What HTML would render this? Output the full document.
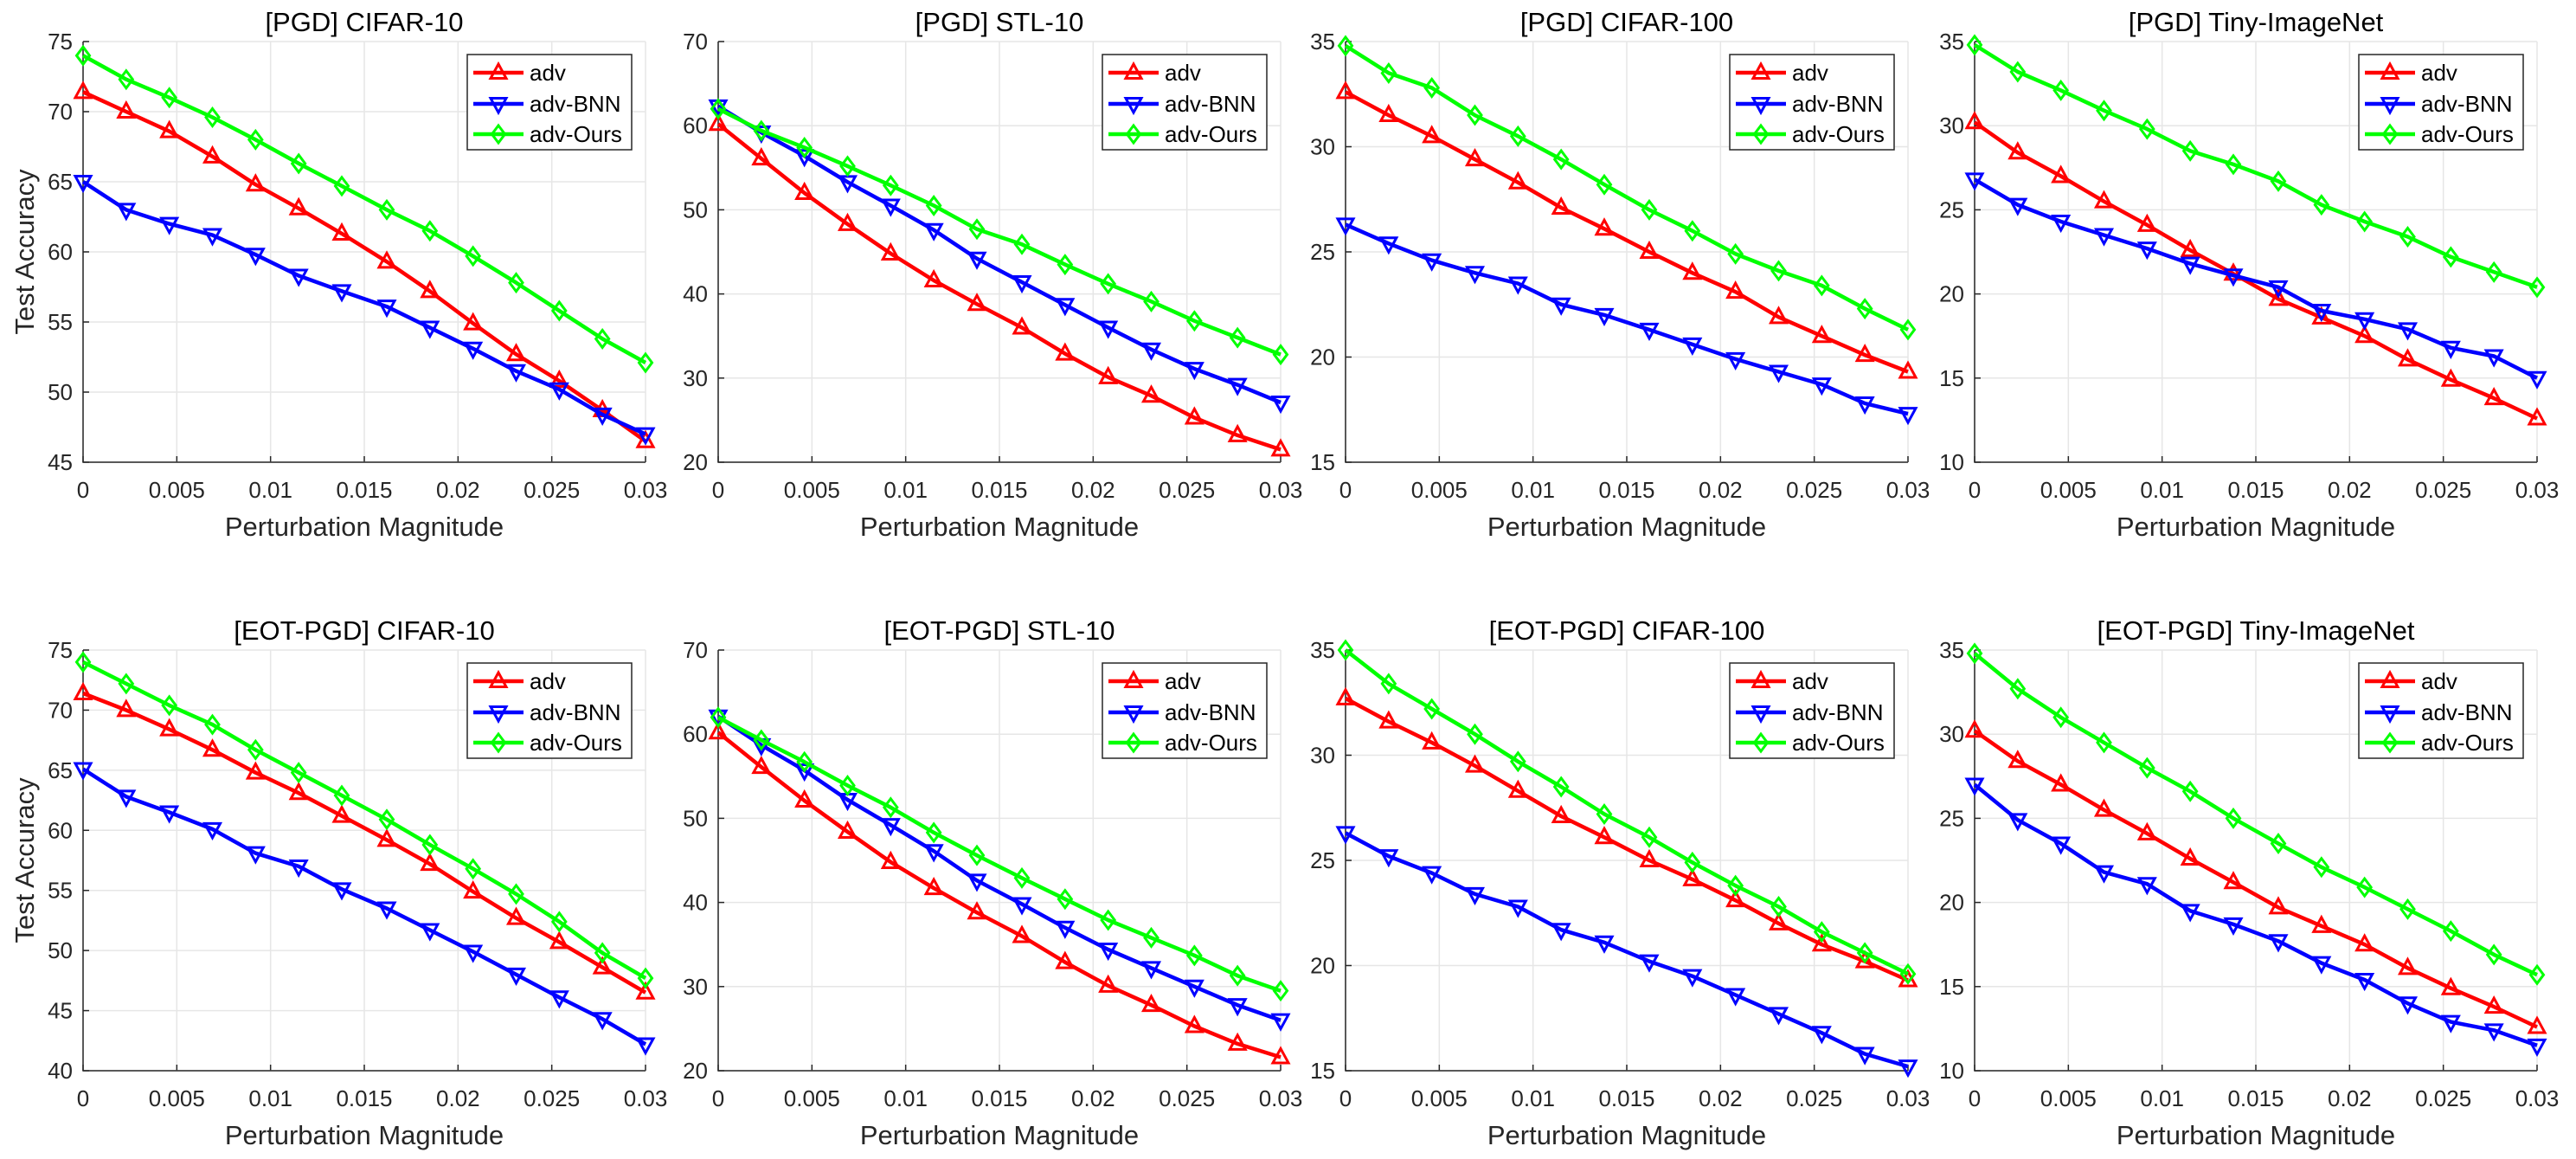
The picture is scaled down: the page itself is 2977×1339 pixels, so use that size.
<!DOCTYPE html>
<html><head><meta charset="utf-8"><style>
html,body{margin:0;padding:0;background:#fff}
svg text{font-family:"Liberation Sans",Arial,sans-serif}
</style></head><body>
<svg id="fig" xmlns="http://www.w3.org/2000/svg" width="2977" height="1334" viewBox="0 0 2977 1334">
<rect width="2977" height="1334" fill="#fff"/>
</svg>
<script>
const xValues = [0,0.0023,0.0046,0.0069,0.0092,0.0115,0.0138,0.0162,0.0185,0.0208,0.0231,0.0254,0.0277,0.03];
const xTickValues = [0,0.005,0.01,0.015,0.02,0.025,0.03];
const xTickLabels = ["0","0.005","0.01","0.015","0.02","0.025","0.03"];
const seriesNames = ["adv","adv-BNN","adv-Ours"];
const titles = ["[PGD] CIFAR-10","[PGD] STL-10","[PGD] CIFAR-100","[PGD] Tiny-ImageNet","[EOT-PGD] CIFAR-10","[EOT-PGD] STL-10","[EOT-PGD] CIFAR-100","[EOT-PGD] Tiny-ImageNet"];
const yMins = [45,20,15,10,40,20,15,10];
const yMaxs = [75,70,35,35,75,70,35,35];
const ySteps = [5,10,5,5,5,10,5,5];

const p1Adv = [71.4,70.0,68.6,66.8,64.8,63.1,61.3,59.3,57.2,54.9,52.7,50.8,48.7,46.5];
const p1Bnn = [65.0,63.0,62.0,61.2,59.8,58.3,57.2,56.1,54.6,53.1,51.5,50.2,48.4,47.0];
const p1Ours = [74.0,72.3,71.0,69.6,68.0,66.3,64.7,63.0,61.5,59.7,57.8,55.8,53.8,52.1];

const p2Adv = [60.2,56.1,52.0,48.3,44.8,41.6,38.8,36.0,32.9,30.1,27.9,25.3,23.2,21.5];
const p2Bnn = [62.3,59.2,56.4,53.3,50.5,47.6,44.2,41.4,38.7,36.0,33.4,31.1,29.2,27.1];
const p2Ours = [62.0,59.4,57.4,55.2,52.9,50.5,47.7,45.9,43.5,41.2,39.1,36.8,34.8,32.8];

const p3Adv = [32.6,31.5,30.5,29.4,28.3,27.1,26.1,25.0,24.0,23.1,21.9,21.0,20.1,19.3];
const p3Bnn = [26.3,25.4,24.6,24.0,23.5,22.5,22.0,21.3,20.6,19.9,19.3,18.7,17.8,17.3];
const p3Ours = [34.8,33.5,32.8,31.5,30.5,29.4,28.2,27.0,26.0,24.9,24.1,23.4,22.3,21.3];

const p4Adv = [30.2,28.4,27.0,25.5,24.1,22.6,21.2,19.7,18.6,17.5,16.1,14.9,13.8,12.6];
const p4Bnn = [26.8,25.3,24.3,23.5,22.7,21.8,21.1,20.4,19.0,18.5,17.9,16.8,16.3,15.0];
const p4Ours = [34.8,33.2,32.1,30.9,29.8,28.5,27.7,26.7,25.3,24.3,23.4,22.2,21.3,20.4];

const p5Adv = [71.4,70.0,68.4,66.7,64.8,63.1,61.2,59.2,57.2,54.9,52.7,50.7,48.6,46.5];
const p5Bnn = [65.1,62.8,61.5,60.1,58.1,57.0,55.1,53.5,51.7,49.9,48.0,46.1,44.3,42.2];
const p5Ours = [74.0,72.2,70.4,68.8,66.7,64.8,62.9,60.9,58.8,56.8,54.7,52.4,49.8,47.7];

const p6Adv = [60.2,56.1,52.1,48.4,44.8,41.7,38.8,36.0,32.9,30.1,27.8,25.3,23.2,21.6];
const p6Bnn = [62.1,58.7,55.7,52.2,49.2,46.1,42.6,39.8,37.0,34.4,32.2,30.0,27.8,26.0];
const p6Ours = [62.0,59.3,56.7,53.9,51.3,48.3,45.6,42.9,40.4,37.9,35.8,33.7,31.3,29.5];

const p7Adv = [32.7,31.6,30.6,29.5,28.3,27.1,26.1,25.0,24.1,23.1,22.0,21.0,20.2,19.3];
const p7Bnn = [26.3,25.2,24.4,23.4,22.8,21.7,21.1,20.2,19.5,18.6,17.7,16.8,15.8,15.2];
const p7Ours = [35.0,33.4,32.2,31.0,29.7,28.5,27.2,26.1,24.9,23.8,22.8,21.6,20.6,19.6];

const p8Adv = [30.2,28.4,27.0,25.5,24.1,22.6,21.2,19.7,18.6,17.5,16.1,14.9,13.8,12.6];
const p8Bnn = [27.0,24.9,23.5,21.8,21.1,19.5,18.7,17.7,16.4,15.4,14.0,12.9,12.4,11.5];
const p8Ours = [34.8,32.7,31.0,29.5,28.0,26.6,25.0,23.5,22.1,20.9,19.6,18.3,16.9,15.7];

const allSeries = [[p1Adv,p1Bnn,p1Ours],[p2Adv,p2Bnn,p2Ours],[p3Adv,p3Bnn,p3Ours],[p4Adv,p4Bnn,p4Ours],
                   [p5Adv,p5Bnn,p5Ours],[p6Adv,p6Bnn,p6Ours],[p7Adv,p7Bnn,p7Ours],[p8Adv,p8Bnn,p8Ours]];

const NS = "http://www.w3.org/2000/svg";
const svg = document.getElementById('fig');
const lefts = [96,830,1555,2282], tops = [48,751], W = 650, H = 486;
const colors = ["#ff0000","#0000ff","#00ff00"];
const seriesKeys = ["adv","adv-bnn","adv-ours"];
function mk(tag, attrs, parent){
  const e = document.createElementNS(NS, tag);
  for (const k in attrs) e.setAttribute(k, attrs[k]);
  parent.appendChild(e); return e;
}
function markerPts(type, cx, cy){
  if (type===0) return `${cx},${cy-10} ${cx+9},${cy+6.5} ${cx-9},${cy+6.5}`;
  if (type===1) return `${cx},${cy+10} ${cx+9},${cy-6.5} ${cx-9},${cy-6.5}`;
  return `${cx},${cy-10} ${cx+7.5},${cy} ${cx},${cy+10} ${cx-7.5},${cy}`;
}
for (let i=0;i<8;i++){
  const L = lefts[i%4], T = tops[Math.floor(i/4)];
  const yMin = yMins[i], yMax = yMaxs[i];
  const xS = v => L + (v - 0)/(0.03) * W;
  const yS = v => T + H - (v - yMin)/(yMax - yMin) * H;
  const g = mk('g', {}, svg);
  
  
  for (let k=0;k<xTickValues.length;k++){
    const x = xS(xTickValues[k]);
    const gl = mk('line',{x1:x,y1:T,x2:x,y2:T+H,stroke:'#e6e6e6','stroke-width':1.5},g);
    
    
    const tk = mk('line',{x1:x,y1:T+H,x2:x,y2:T+H-7,stroke:'#262626','stroke-width':1.5},g);
    
    
    const tl = mk('text',{x:x,y:T+H+41,'font-size':26,fill:'#262626','text-anchor':'middle'},g);
    tl.textContent = xTickLabels[k];
    
    
  }
  for (let v=yMin; v<=yMax+1e-9; v+=ySteps[i]){
    const y = yS(v);
    const gl = mk('line',{x1:L,y1:y,x2:L+W,y2:y,stroke:'#e6e6e6','stroke-width':1.5},g);
    
    
    const tk = mk('line',{x1:L,y1:y,x2:L+7,y2:y,stroke:'#262626','stroke-width':1.5},g);
    
    
    const tl = mk('text',{x:L-12,y:y+9,'font-size':26,fill:'#262626','text-anchor':'end'},g);
    tl.textContent = String(v);
    
    
  }
  const ax = mk('path',{d:`M${L},${T} L${L},${T+H} L${L+W},${T+H}`,fill:'none',stroke:'#262626','stroke-width':1.5},g);
  
  
  const tt = mk('text',{x:L+W/2,y:T-12,'font-size':31,fill:'#000','text-anchor':'middle'},g);
  tt.textContent = titles[i];
  
  
  const xl = mk('text',{x:L+W/2,y:T+H+85,'font-size':31,fill:'#262626','text-anchor':'middle'},g);
  xl.textContent = 'Perturbation Magnitude';
  
  
  if (i%4===0){
    const cy = T+H/2, cx = 39;
    const yl = mk('text',{x:cx,y:cy,'font-size':31,fill:'#262626','text-anchor':'middle',transform:`rotate(-90 ${cx} ${cy})`},g);
    yl.textContent = 'Test Accuracy';
    
    
  }
  for (let s=0;s<3;s++){
    const vals = allSeries[i][s];
    const sg = mk('g',{},g);
    
    
    const pts = vals.map((v,k)=>`${xS(xValues[k]).toFixed(1)},${yS(v).toFixed(1)}`).join(' ');
    const pl = mk('polyline',{points:pts,fill:'none',stroke:colors[s],'stroke-width':4.5,'stroke-linejoin':'round'},sg);
    
    
    vals.forEach((v,k)=>{
      const m = mk('polygon',{points:markerPts(s,xS(xValues[k]),yS(v)),fill:'none',stroke:colors[s],'stroke-width':3},sg);
      
      
    });
  }
  const lx = L+W-16-190, ly = T+15;
  const lg = mk('g',{},g);
  
  
  mk('rect',{x:lx,y:ly,width:190,height:110,fill:'#fff',stroke:'#262626','stroke-width':1.5},lg);
  const offs = [21,57,92];
  for (let s=0;s<3;s++){
    const ey = ly+offs[s];
    const eg = mk('g',{},lg);
    
    
    mk('line',{x1:lx+7,y1:ey,x2:lx+65,y2:ey,stroke:colors[s],'stroke-width':4.5},eg);
    mk('polygon',{points:markerPts(s,lx+36,ey),fill:'none',stroke:colors[s],'stroke-width':3},eg);
    const t = mk('text',{x:lx+72,y:ey+9,'font-size':26,fill:'#000'},eg);
    t.textContent = seriesNames[s];
  }
}
</script>
</body></html>
